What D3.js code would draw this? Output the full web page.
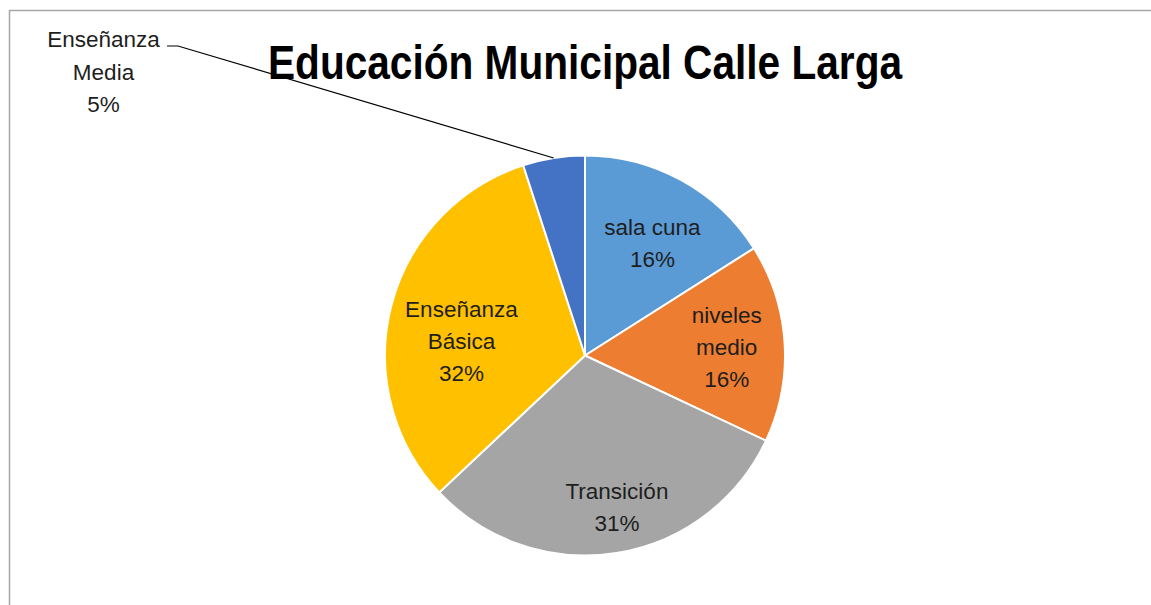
<!DOCTYPE html>
<html>
<head>
<meta charset="utf-8">
<script src="https://cdn.jsdelivr.net/npm/d3@7"></script>
<style>
  body { margin: 0; background: #fff; }
  svg { display: block; }
  text { font-family: "Liberation Sans", Arial, sans-serif; }
</style>
</head>
<body>
<div id="chart"></div>
<script>
// Data
var categories = ["sala cuna", "niveles medio", "Transición", "Enseñanza Básica", "Enseñanza Media"];
var percents = [16, 16, 31, 32, 5];
var labelLines = [["sala cuna"], ["niveles", "medio"], ["Transición"], ["Enseñanza", "Básica"], ["Enseñanza", "Media"]];
var colors = ["#5B9BD5", "#ED7D31", "#A5A5A5", "#FFC000", "#4472C4"];

var width = 1151, height = 605,
    cx = 585, cy = 355.5, radius = 200;

// small nudges so the labels sit where the original put them
var labelNudge = [[0, 10], [2, 0], [10, 13], [12, 20]];

var svg = d3.select("#chart").append("svg")
    .attr("width", width)
    .attr("height", height);

// chart area frame (runs off the right and bottom of the shot)
svg.append("rect")
    .attr("x", 9.5)
    .attr("y", 10.5)
    .attr("width", 1300)
    .attr("height", 800)
    .attr("fill", "none")
    .attr("stroke", "#a6a6a6")
    .attr("stroke-width", 1.5);

// title: the original is a tall, narrow bold face, so stretch it a bit vertically
svg.append("g")
    .attr("transform", "translate(585,79) scale(1,1.2)")
  .append("text")
    .attr("x", 0)
    .attr("y", 0)
    .attr("text-anchor", "middle")
    .attr("font-weight", "bold")
    .attr("font-size", 40)
    .attr("textLength", 634)
    .attr("lengthAdjust", "spacingAndGlyphs")
    .attr("fill", "#000")
    .text("Educación Municipal Calle Larga");

var data = categories.map(function(c, i) {
  return { name: c, value: percents[i], lines: labelLines[i], color: colors[i] };
});

var pie = d3.pie()
    .sort(null)
    .value(function(d) { return d.value; });

var arc = d3.arc().innerRadius(0).outerRadius(radius);
var labelArc = d3.arc().innerRadius(140).outerRadius(140);
var edgeArc = d3.arc().innerRadius(radius).outerRadius(radius);

var arcs = pie(data);

var g = svg.append("g")
    .attr("transform", "translate(" + cx + "," + cy + ")");

g.selectAll("path.slice")
    .data(arcs)
  .enter().append("path")
    .attr("class", "slice")
    .attr("d", arc)
    .attr("fill", function(d) { return d.data.color; })
    .attr("stroke", "#fff")
    .attr("stroke-width", 2);

var lineH = 32, fs = 22.5;

// inside labels (all but the last slice)
arcs.forEach(function(d, i) {
  if (i === arcs.length - 1) return;
  var c = labelArc.centroid(d),
      n = labelNudge[i];
  var lines = d.data.lines.concat([d.data.value + "%"]);
  var top = c[1] + n[1] - (lines.length - 1) * lineH / 2;
  var t = g.append("text")
      .attr("text-anchor", "middle")
      .attr("font-size", fs)
      .attr("fill", "#1e1e1e");
  lines.forEach(function(s, k) {
    t.append("tspan")
        .attr("x", c[0] + n[0])
        .attr("y", top + k * lineH + 8)
        .text(s);
  });
});

// outside label with leader line for the small slice
var last = arcs[arcs.length - 1],
    tip = edgeArc.centroid(last);
var lx = 103.5 - cx, ly = 47 - cy; // label block anchor
g.append("polyline")
    .attr("points", [[167 - cx, 46 - cy], [178 - cx, 46 - cy], tip].map(function(p) { return p.join(","); }).join(" "))
    .attr("fill", "none")
    .attr("stroke", "#000")
    .attr("stroke-width", 1.2);

var tl = g.append("text")
    .attr("text-anchor", "middle")
    .attr("font-size", fs)
    .attr("fill", "#1e1e1e");
last.data.lines.concat([last.data.value + "%"]).forEach(function(s, k) {
  tl.append("tspan")
      .attr("x", lx)
      .attr("y", ly + k * 32.5)
      .text(s);
});
</script>
</body>
</html>
